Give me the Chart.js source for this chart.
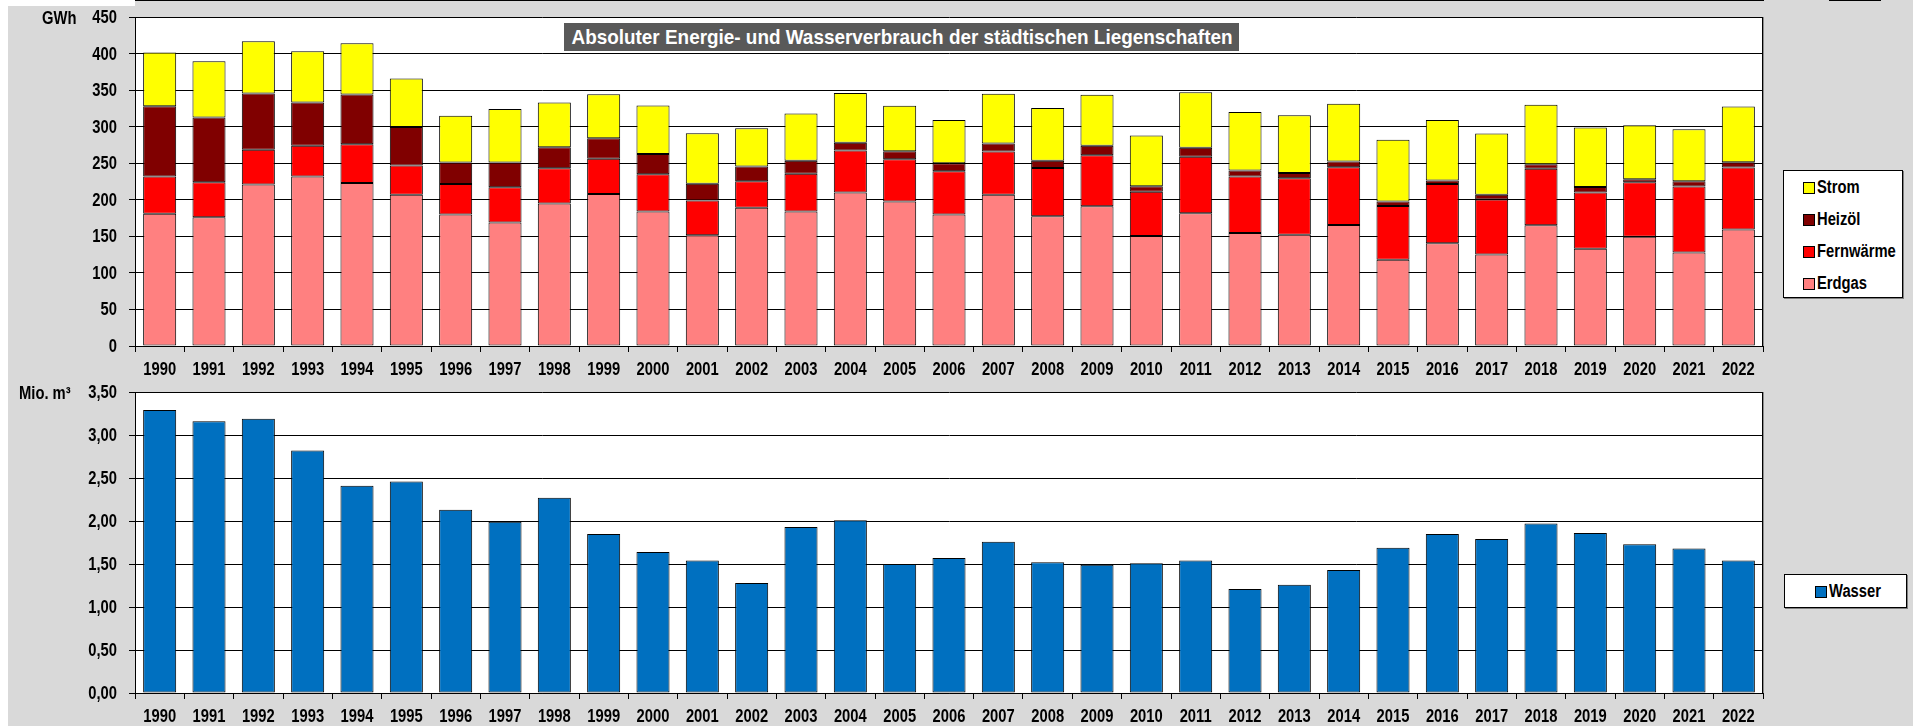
<!DOCTYPE html>
<html>
<head>
<meta charset="utf-8">
<title>Energie- und Wasserverbrauch</title>
<script src="https://cdn.jsdelivr.net/npm/chart.js@4.4.1/dist/chart.umd.min.js"></script>
<style>
  body { margin: 0; width: 1913px; height: 728px; background: #d9d9d9; position: relative; overflow: hidden;
         font-family: 'Liberation Sans', Arial, sans-serif; font-weight: bold; color: #000; }
  canvas { position: absolute; left: 0; }
  #energie { top: 0; }
  #wasser { top: 375px; }
  .strip { position: absolute; background: #fff; }
  .rule { position: absolute; top: 0; height: 1px; background: #000; }
  .schmal { display: inline-block; white-space: nowrap; transform: scaleX(0.82); transform-origin: 0 50%; }
  .unit { position: absolute; font-size: 18px; line-height: 20px; }
  #titel { position: absolute; left: 564px; top: 23px; width: 675px; height: 28px; background: #595959; color: #fff; }
  #titel span { position: absolute; left: 50%; top: 0; font-size: 21px; line-height: 28px; white-space: nowrap;
                transform: translateX(-50%) scaleX(0.9); }
  .legende { position: absolute; background: #fff; border: 1px solid #000; box-shadow: 1px 1px 0 #7f7f7f; box-sizing: border-box; }
  .kaestchen { position: absolute; width: 10px; height: 10px; border: 1px solid #000; }
  .eintrag { position: absolute; font-size: 18px; line-height: 20px; }
</style>
</head>
<body>
<div class="strip" style="left:0;top:0;width:8px;height:728px"></div>
<div class="strip" style="left:0;top:0;width:135px;height:6px"></div>
<div class="strip" style="left:0;top:726px;width:1913px;height:2px"></div>
<div class="rule" style="left:135px;width:1629px"></div>
<div class="rule" style="left:1829px;width:52px"></div>

<canvas id="energie" width="1780" height="390"></canvas>
<canvas id="wasser" width="1780" height="353"></canvas>

<div class="unit" style="left:42px;top:8px"><span class="schmal">GWh</span></div>
<div class="unit" style="left:19px;top:383px"><span class="schmal">Mio. m³</span></div>
<div id="titel"><span>Absoluter Energie- und Wasserverbrauch der städtischen Liegenschaften</span></div>
<div class="legende" id="leg1" style="left:1783px;top:170px;width:120px;height:128px"></div>
<div class="legende" id="leg2" style="left:1784px;top:574px;width:123px;height:34px"></div>

<script>
const years = ['1990','1991','1992','1993','1994','1995','1996','1997','1998','1999','2000','2001','2002','2003','2004','2005',
               '2006','2007','2008','2009','2010','2011','2012','2013','2014','2015','2016','2017','2018','2019','2020','2021','2022'];

// GWh je Energieträger
const erdgas     = [181, 176, 221, 232, 223, 207, 180, 169, 195, 208, 184, 151.5, 189, 184, 210, 197.5,
                    180, 207, 177.5, 191, 150.5, 181.5, 154.5, 152, 165.5, 118, 140.5, 125, 165, 133, 149.5, 128, 159.5];
const fernwaerme = [51, 48, 47.5, 42, 53, 40, 41.5, 48, 48, 48, 51, 47.5, 36.5, 51.5, 57.5, 58,
                    59, 59, 66, 70, 60.5, 77.5, 77.5, 77.5, 79, 73.5, 81, 75.5, 77.5, 77, 74.5, 90, 84.5];
const heizoel    = [96, 88.5, 77, 59, 68, 52.5, 29.5, 34, 29, 28, 27.5, 23, 20, 18, 10.5, 11,
                    11, 11, 10, 13, 7.5, 12, 8, 7, 8, 6, 5, 6.5, 6, 7.5, 4, 7.5, 7.5];
const strom      = [73.5, 77, 71.5, 70, 70, 66.5, 64, 73, 61, 60.5, 66.5, 69, 52.5, 64.5, 68, 62,
                    59, 68, 72, 69.5, 69.5, 76, 80, 79, 79, 84.5, 82.5, 83.5, 81.5, 81.5, 74, 71, 76];

// Mio. m³
const wasser = [3.29, 3.16, 3.19, 2.82, 2.41, 2.46, 2.13, 1.99, 2.27, 1.85, 1.64, 1.54, 1.28, 1.93, 2.01, 1.50,
                1.57, 1.76, 1.52, 1.49, 1.51, 1.54, 1.21, 1.26, 1.43, 1.69, 1.85, 1.79, 1.97, 1.86, 1.73, 1.68, 1.54];

const gwhTicks = [0, 50, 100, 150, 200, 250, 300, 350, 400, 450];
const m3Ticks = [0, 0.5, 1, 1.5, 2, 2.5, 3, 3.5];

const FONT = "'Liberation Sans', Arial, sans-serif";
const NARROW = 0.82;   // kein Arial Narrow vorhanden -> Schrift horizontal stauchen

// weisser Plotbereich + rechter Rahmen
const plotFrame = {
  id: 'plotFrame',
  beforeDraw(chart) {
    const a = chart.chartArea, c = chart.ctx;
    c.save();
    c.fillStyle = '#fff';
    c.fillRect(a.left, a.top, a.right - a.left, a.bottom - a.top);
    c.restore();
  },
  afterDraw(chart) {
    const a = chart.chartArea, c = chart.ctx;
    const r = Math.round(a.right);
    c.save();
    c.lineWidth = 1;
    c.strokeStyle = '#000';
    c.beginPath(); c.moveTo(r - 0.5, a.top); c.lineTo(r - 0.5, a.bottom); c.stroke();
    c.strokeStyle = '#8c8c8c';
    c.beginPath(); c.moveTo(r + 0.5, a.top); c.lineTo(r + 0.5, a.bottom); c.stroke();
    c.restore();
  }
};

// Achsenbeschriftung schmal zeichnen, Positionen kommen von den Skalen
const narrowTicks = {
  id: 'narrowTicks',
  afterDraw(chart) {
    const c = chart.ctx, sx = chart.scales.x, sy = chart.scales.y;
    c.save();
    c.fillStyle = '#000';
    c.font = 'bold 18px ' + FONT;
    c.textBaseline = 'middle';
    c.textAlign = 'center';
    sx.ticks.forEach((t, i) => {
      c.save();
      c.translate(sx.getPixelForTick(i), sx.top + 24);
      c.scale(NARROW, 1);
      c.fillText(t.label, 0, 0);
      c.restore();
    });
    c.textAlign = 'right';
    sy.ticks.forEach(t => {
      c.save();
      c.translate(sy.right - 18, sy.getPixelForValue(t.value) + 1);
      c.scale(NARROW, 1);
      c.fillText(t.label, 0, 0);
      c.restore();
    });
    c.restore();
  }
};

function barSet(label, data, color) {
  return { label: label, data: data, backgroundColor: color, borderColor: '#000', borderWidth: 1, borderSkipped: false };
}

function options(tickList, fmt, xHeight) {
  return {
    responsive: false,
    animation: false,
    layout: { padding: { top: 17, right: 17, left: 0, bottom: 0 } },
    plugins: { legend: { display: false }, tooltip: { enabled: false } },
    datasets: { bar: { categoryPercentage: 1, barPercentage: 0.67 } },
    scales: {
      x: {
        stacked: true,
        grid: { drawOnChartArea: false, tickLength: 6, color: '#000', offset: true },
        border: { color: '#000' },
        ticks: { display: false, autoSkip: false },
        afterFit(s) { s.height = xHeight; }
      },
      y: {
        stacked: true,
        min: tickList[0],
        max: tickList[tickList.length - 1],
        afterBuildTicks(s) { s.ticks = tickList.map(v => ({ value: v })); },
        grid: { color: '#000', tickLength: 6 },
        border: { color: '#000' },
        ticks: { display: false, callback: fmt },
        afterFit(s) { s.width = 135; }
      }
    }
  };
}

const energieSets = [
  barSet('Erdgas', erdgas, '#ff8080'),
  barSet('Fernwärme', fernwaerme, '#ff0000'),
  barSet('Heizöl', heizoel, '#800000'),
  barSet('Strom', strom, '#ffff00')
];

new Chart(document.getElementById('energie'), {
  type: 'bar',
  data: { labels: years, datasets: energieSets },
  options: options(gwhTicks, v => String(v), 44),
  plugins: [plotFrame, narrowTicks]
});

const wasserSets = [barSet('Wasser', wasser, '#0070c0')];

new Chart(document.getElementById('wasser'), {
  type: 'bar',
  data: { labels: years, datasets: wasserSets },
  options: options(m3Ticks, v => v.toFixed(2).replace('.', ','), 35),
  plugins: [plotFrame, narrowTicks]
});

// Legenden (Reihenfolge wie im Stapel, von oben)
function legende(el, sets, top0, step, left) {
  sets.slice().reverse().forEach((ds, i) => {
    const box = document.createElement('div');
    box.className = 'kaestchen';
    box.style.left = left + 'px';
    box.style.top = (top0 + i * step + 5) + 'px';
    box.style.background = ds.backgroundColor;
    el.appendChild(box);
    const e = document.createElement('div');
    e.className = 'eintrag';
    e.style.left = (left + 14) + 'px';
    e.style.top = (top0 + i * step) + 'px';
    e.innerHTML = '<span class="schmal">' + ds.label + '</span>';
    el.appendChild(e);
  });
}
legende(document.getElementById('leg1'), energieSets, 6, 32, 19);
legende(document.getElementById('leg2'), wasserSets, 6, 32, 30);
</script>
</body>
</html>
